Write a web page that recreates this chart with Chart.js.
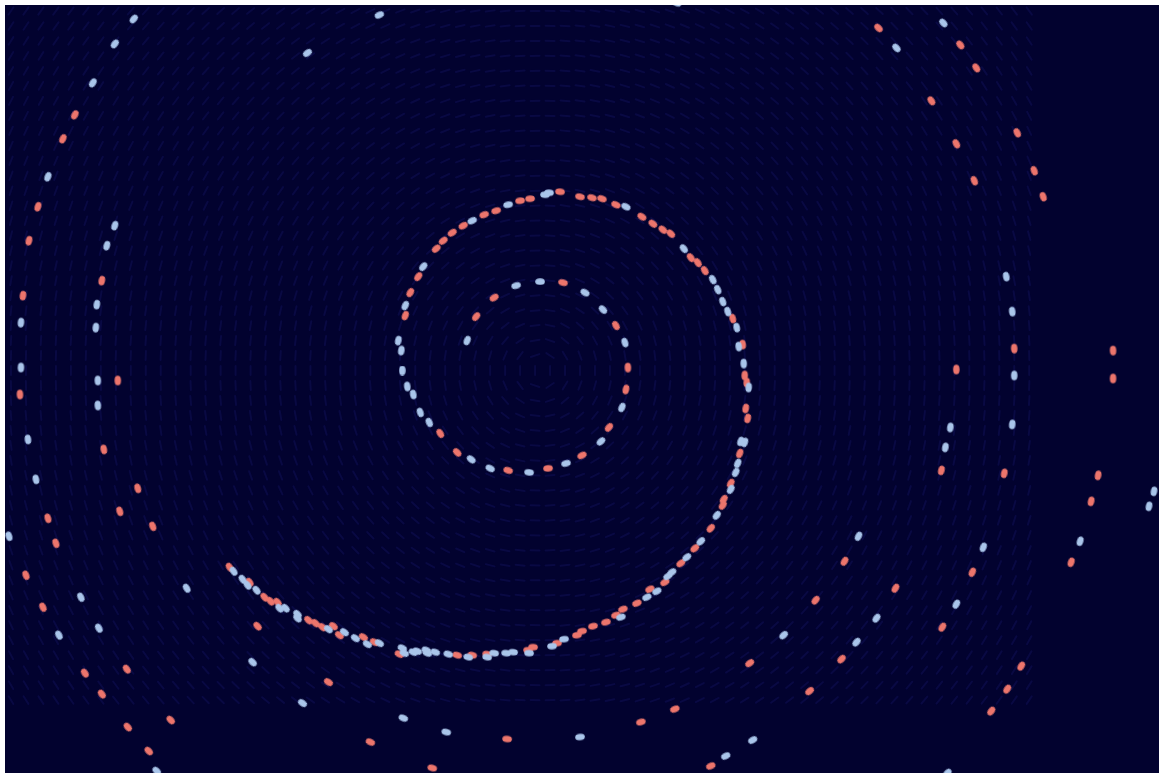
<!DOCTYPE html>
<html>
<head>
<meta charset="utf-8">
<script src="https://cdn.jsdelivr.net/npm/chart.js@4"></script>
<style>
  html, body { margin: 0; padding: 0; background: #ffffff; }
  #wrap { width: 1164px; height: 778px; }
</style>
</head>
<body>
<div id="wrap"><canvas id="c"></canvas></div>
<script>
// ---- Data (x right, y down) ----
const bluePts = [
  [467,340],[516,285],[540,281],[585,292],[603,309],[625,342],[622,407],[601,441],[566,463],[529,472],
  [490,468],[471,459],[429,422],[420,412],[413,394],[407,386],[402,370],[401,350],[398,340],[405,305],[423,266],
  [472,220],[508,204],[545,194],[549,192],
  [626,206],[684,248],[713,279],[718,289],[723,301],[728,311],[737,327],[739,346],[744,363],[749,387],
  [741,441],[745,442],[738,463],[736,472],[731,489],[717,515],[701,541],[687,557],[672,572],[668,576],[657,591],[647,597],
  [233,571],[242,579],[247,585],[256,590],[279,608],[285,608],[297,614],[297,618],[328,629],[344,632],[355,638],
  [367,644],[379,643],[252,662],[402,648],[404,653],[413,652],[417,651],[426,650],[427,653],[435,652],[448,654],
  [468,657],[487,657],[494,653],[506,653],[513,652],[529,653],[552,646],[564,639],[621,617],
  [133,18],[114,43],[92,82],[47,176],[20,322],[20,367],[27,439],[35,479],[8,536],[58,635],[156,771],
  [114,225],[106,245],[96,304],[95,327],[97,380],[97,405],[186,588],[80,597],[98,628],[302,703],[403,718],
  [446,732],[580,737],[726,756],[753,740],[784,635],[859,536],[857,642],[877,618],[984,547],[957,604],[948,773],
  [897,47],[944,22],[1007,276],[1013,311],[1015,375],[951,427],[946,447],[1013,424],[1081,541],[1150,506],[1155,491],
  [307,52],[379,14],[677,2]
];
const redPts = [
  [476,316],[494,297],[563,282],[616,325],[628,367],[626,389],[609,427],[582,455],[548,468],[508,470],[457,452],
  [440,433],[405,315],[410,292],[418,276],
  [436,248],[443,240],[452,232],[463,225],[484,214],[496,210],[520,200],[530,198],[560,191],[580,196],[592,197],
  [602,198],[616,204],[642,216],[653,223],[663,229],[671,233],[691,257],[698,262],[705,270],[733,318],[743,344],
  [745,375],[747,382],[746,408],[748,418],[740,453],[731,483],[724,499],[723,505],[711,528],[695,548],[681,563],
  [665,582],[650,589],
  [229,567],[249,582],[264,597],[270,601],[277,602],[308,620],[315,623],[322,627],[333,626],[339,635],[363,637],
  [374,642],[257,626],[399,654],[457,655],[472,655],[487,654],[528,650],[533,647],[557,643],[577,635],[582,631],
  [593,626],[606,622],[616,615],[623,609],[637,603],
  [74,114],[62,138],[37,206],[28,240],[22,295],[19,394],[47,518],[55,543],[25,575],[42,607],[84,673],[101,694],
  [127,727],[148,751],[101,280],[117,380],[103,449],[137,488],[119,511],[152,526],[126,669],[170,720],[328,682],
  [370,742],[432,768],[507,739],[641,722],[675,709],[711,766],[750,663],[810,691],[816,600],[842,659],[845,561],
  [896,588],[973,572],[943,627],[1022,666],[1008,689],[992,711],[879,27],[961,44],[977,67],[932,100],[957,143],
  [975,180],[1018,132],[1035,170],[1044,196],[1015,348],[957,369],[942,470],[1005,473],[1114,350],[1114,378],
  [1099,475],[1092,501],[1072,562]
];
const blueX = bluePts.map(p => p[0]);
const blueY = bluePts.map(p => p[1]);
const redX = redPts.map(p => p[0]);
const redY = redPts.map(p => p[1]);

// flow centre and background field extent (data units)
const flowCenter = { x: 540, y: 370 };
const fieldX = { min: 10, max: 1040, step: 15 };
const fieldY = { min: 10, max: 700, step: 15 };

// ---- Styles ----
const BG = '#02022f';
const BLUE = '#a9c5ea';
const RED = '#ec756c';

function ellipseSprite(color) {
  const cv = document.createElement('canvas');
  cv.width = 10; cv.height = 7;
  const g = cv.getContext('2d');
  g.fillStyle = color;
  g.beginPath();
  g.ellipse(5, 3.5, 4.8, 3.2, 0, 0, Math.PI * 2);
  g.fill();
  return cv;
}
const blueSprite = ellipseSprite(BLUE);
const redSprite = ellipseSprite(RED);

function tangentDeg(x, y) {
  return Math.atan2(y - flowCenter.y, x - flowCenter.x) * 180 / Math.PI + 90;
}

const fieldPlugin = {
  id: 'field',
  beforeDraw(chart) {
    const { ctx, chartArea: a, scales } = chart;
    ctx.save();
    ctx.fillStyle = BG;
    ctx.fillRect(a.left, a.top, a.right - a.left, a.bottom - a.top);
    ctx.beginPath();
    ctx.rect(a.left, a.top, a.right - a.left, a.bottom - a.top);
    ctx.clip();
    ctx.strokeStyle = 'rgba(40,40,150,0.2)';
    ctx.lineWidth = 2;
    ctx.lineCap = 'round';
    for (let gx = fieldX.min; gx <= fieldX.max; gx += fieldX.step) {
      for (let gy = fieldY.min; gy <= fieldY.max; gy += fieldY.step) {
        const px = scales.x.getPixelForValue(gx);
        const py = scales.y.getPixelForValue(gy);
        const ang = tangentDeg(gx, gy) * Math.PI / 180;
        const dx = Math.cos(ang) * 4.5, dy = Math.sin(ang) * 4.5;
        ctx.beginPath();
        ctx.moveTo(px - dx, py - dy);
        ctx.lineTo(px + dx, py + dy);
        ctx.stroke();
      }
    }
    ctx.restore();
  }
};

function mk(xs, ys) { return xs.map((x, i) => ({ x: x, y: ys[i] })); }

new Chart(document.getElementById('c'), {
  type: 'scatter',
  data: {
    datasets: [
      {
        label: 'A',
        data: mk(blueX, blueY),
        pointStyle: blueSprite,
        rotation: ctx => ctx.raw ? tangentDeg(ctx.raw.x, ctx.raw.y) : 0,
        backgroundColor: BLUE
      },
      {
        label: 'B',
        data: mk(redX, redY),
        pointStyle: redSprite,
        rotation: ctx => ctx.raw ? tangentDeg(ctx.raw.x, ctx.raw.y) : 0,
        backgroundColor: RED
      }
    ]
  },
  options: {
    responsive: true,
    maintainAspectRatio: false,
    animation: false,
    layout: { padding: { left: 4, top: 4, right: 4, bottom: 5 } },
    plugins: { legend: { display: false }, tooltip: { enabled: false } },
    scales: {
      x: { type: 'linear', min: 4, max: 1160, display: false },
      y: { type: 'linear', min: 4, max: 773, reverse: true, display: false }
    }
  },
  plugins: [fieldPlugin]
});
</script>
</body>
</html>
